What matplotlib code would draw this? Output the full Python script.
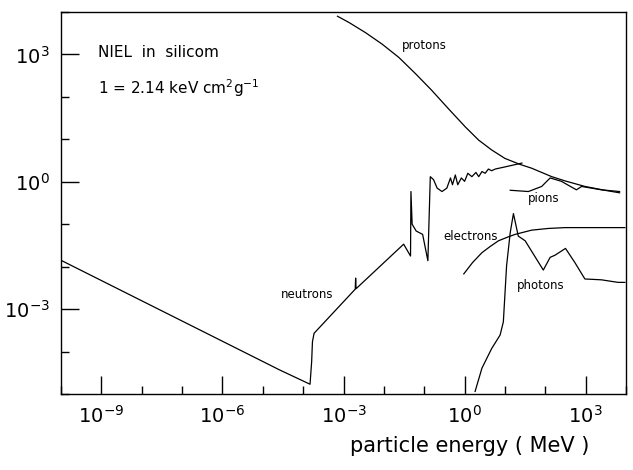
import matplotlib.pyplot as plt
import numpy as np

# values, as log10(energy / MeV) and log10(NIEL)
neutron_le = [-10.0, -4.59, -3.83, -3.79, -3.77, -3.73, -2.71, -2.70, -2.69, -1.51, -1.34,
              -1.33, -1.30, -1.20, -1.04, -0.91, -0.85, -0.77, -0.68, -0.56, -0.44, -0.35,
              -0.30, -0.23, -0.17, -0.08, 0.0, 0.08, 0.18, 0.28, 0.35, 0.43, 0.51, 0.59,
              0.67, 0.76, 1.0, 1.42]
neutron_ln = [-1.85, -4.43, -4.77, -4.24, -3.77, -3.57, -2.53, -2.27, -2.52, -1.47, -1.75,
              -0.23, -1.00, -1.16, -1.24, -1.86, 0.12, 0.05, -0.15, -0.23, -0.15, 0.09,
              -0.07, 0.16, -0.07, 0.09, 0.01, 0.20, 0.12, 0.22, 0.12, 0.24, 0.20, 0.30,
              0.26, 0.30, 0.35, 0.44]

proton_le = [-3.15, -2.86, -2.45, -2.04, -1.63, -1.22, -0.81, -0.40, 0.02, 0.35, 0.67,
             1.0, 1.37, 1.66, 2.16, 2.49, 2.98, 3.47, 3.84]
proton_ln = [3.90, 3.75, 3.51, 3.24, 2.93, 2.55, 2.15, 1.72, 1.29, 0.98, 0.75,
             0.55, 0.41, 0.32, 0.12, 0.02, -0.11, -0.20, -0.26]

pion_le = [1.13, 1.58, 1.91, 2.12, 2.40, 2.77, 2.90, 3.39, 3.84]
pion_ln = [-0.20, -0.23, -0.11, 0.09, 0.01, -0.19, -0.11, -0.19, -0.23]

electron_le = [-0.02, 0.20, 0.43, 0.64, 0.84, 1.05, 1.25, 1.66, 2.07, 2.49, 3.97]
electron_ln = [-2.17, -1.90, -1.67, -1.52, -1.39, -1.31, -1.24, -1.14, -1.10, -1.08, -1.08]

photon_le = [0.26, 0.43, 0.67, 0.88, 0.96, 1.04, 1.13, 1.21, 1.33, 1.50, 1.95, 2.12,
             2.24, 2.50, 2.73, 2.98, 3.39, 3.80, 3.97]
photon_ln = [-4.94, -4.39, -3.93, -3.61, -3.30, -1.98, -1.20, -0.75, -1.28, -1.39, -2.08,
             -1.78, -1.73, -1.57, -1.90, -2.29, -2.31, -2.37, -2.37]

# curve labels: text, log10 E, log10 NIEL
labels = [("protons", -1.0, 3.2), ("neutrons", -3.9, -2.66), ("electrons", 0.15, -1.28),
          ("pions", 1.95, -0.40), ("photons", 1.88, -2.45)]

xticks_major = [1e-9, 1e-6, 1e-3, 1e0, 1e3]
xtick_labels = ["$10^{-9}$", "$10^{-6}$", "$10^{-3}$", "$10^{0}$", "$10^{3}$"]
yticks_major = [1e-3, 1e0, 1e3]
ytick_labels = ["$10^{-3}$", "$10^{0}$", "$10^{3}$"]

fig = plt.figure(figsize=(6.33, 4.70), dpi=100)
ax = fig.add_axes([0.0964, 0.1617, 0.8926, 0.8128])

for le, ln in [(neutron_le, neutron_ln), (proton_le, proton_ln), (pion_le, pion_ln),
               (electron_le, electron_ln), (photon_le, photon_ln)]:
    ax.plot(np.power(10.0, le), np.power(10.0, ln), color="black", lw=0.9)

for txt, lx, ly in labels:
    ax.text(10 ** lx, 10 ** ly, txt, fontsize=8.5, ha="center", va="center")

ax.set_xscale("log")
ax.set_yscale("log")
ax.set_xlim(1e-10, 1e4)
ax.set_ylim(1e-5, 1e4)

ax.set_xticks(xticks_major)
ax.set_xticklabels(xtick_labels, fontsize=14)
ax.set_xticks([10.0 ** k for k in range(-10, 5) if k % 3 != 0], minor=True)
ax.set_yticks(yticks_major)
ax.set_yticklabels(ytick_labels, fontsize=14)
ax.set_yticks([10.0 ** k for k in range(-5, 5) if k % 3 != 0], minor=True)
ax.xaxis.set_minor_formatter(plt.NullFormatter())
ax.yaxis.set_minor_formatter(plt.NullFormatter())
ax.tick_params(which="major", direction="in", length=13, width=1, pad=8)
ax.tick_params(which="minor", direction="in", length=6, width=1)
for s in ax.spines.values():
    s.set_linewidth(1)

ax.set_xlabel("particle energy ( MeV )", fontsize=15)
ax.xaxis.set_label_coords(0.724, -0.11)

ax.text(0.065, 0.895, "NIEL  in  silicom", transform=ax.transAxes, fontsize=11, va="center")
ax.text(0.065, 0.80, "1 = 2.14 keV cm$^{2}$g$^{-1}$", transform=ax.transAxes, fontsize=11,
        va="center")

fig.savefig("out.png", dpi=100)
